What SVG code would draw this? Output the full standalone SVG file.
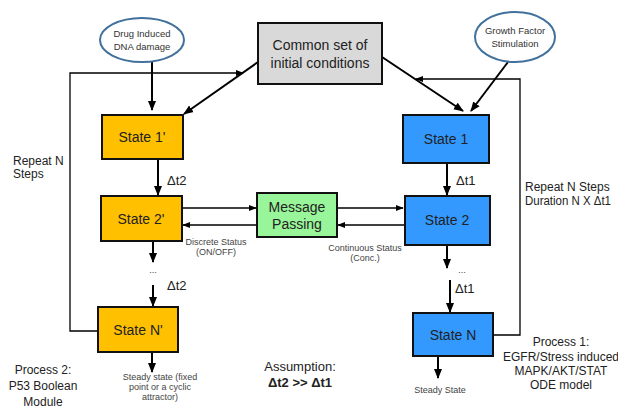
<svg xmlns="http://www.w3.org/2000/svg" width="618" height="410" viewBox="0 0 618 410">
<defs>
<marker id="ah" viewBox="0 0 10 10" refX="9" refY="5" markerWidth="5" markerHeight="5" orient="auto" markerUnits="strokeWidth"><path d="M0,1 L10,5 L0,9 z" fill="#000"/></marker>
<marker id="ahs" viewBox="0 0 10 10" refX="9" refY="5" markerWidth="6" markerHeight="6" orient="auto" markerUnits="strokeWidth"><path d="M0,1 L10,5 L0,9 z" fill="#000"/></marker>
</defs>
<style>
text{font-family:"Liberation Sans",Arial,sans-serif;fill:#222}
.box{stroke:#111;stroke-width:2}
.y{fill:#FFC000}
.b{fill:#3399FF}
.g{fill:#99F599}
.gr{fill:#D9D9D9}
.el{fill:#fff;stroke:#41719C;stroke-width:2}
.c{stroke:#000;stroke-width:2;fill:none;marker-end:url(#ah)}
.l{stroke:#000;stroke-width:1.3;fill:none}
.ls{stroke:#000;stroke-width:1.3;fill:none;marker-end:url(#ahs)}
.t14{font-size:14px;text-anchor:middle}
.t13{font-size:13px}
.t12{font-size:12px;text-anchor:middle}
.t12s{font-size:12px}
.t9{font-size:9px;text-anchor:middle;fill:#444}
.t10{font-size:9.5px;text-anchor:middle;fill:#333}
</style>
<g id="connectors">
<line class="c" x1="152" y1="62" x2="152" y2="110"/>
<line class="c" x1="258" y1="62" x2="184" y2="114"/>
<line class="c" x1="382" y1="57" x2="463" y2="111"/>
<line class="c" x1="508" y1="62" x2="471" y2="111"/>
<line class="c" x1="158" y1="159" x2="158" y2="195"/>
<line class="c" x1="153" y1="241" x2="153" y2="262"/>
<line class="c" x1="153" y1="285" x2="153" y2="306"/>
<line class="c" x1="152" y1="352" x2="152" y2="372"/>
<line class="c" x1="447" y1="163" x2="447" y2="195"/>
<line class="c" x1="447" y1="245" x2="447" y2="268"/>
<line class="c" x1="450" y1="280" x2="450" y2="312"/>
<line class="c" x1="438" y1="356" x2="438" y2="378"/>
<line class="ls" x1="182" y1="208" x2="256" y2="208"/>
<line class="ls" x1="257" y1="225" x2="183" y2="225"/>
<line class="ls" x1="337" y1="208" x2="403" y2="208"/>
<line class="ls" x1="404" y1="225" x2="338" y2="225"/>
<polyline class="ls" points="98,331 70,331 70,73 243,73"/>
<polyline class="ls" points="493,335 520,335 520,79 416,79"/>
</g>
<g id="drug"><ellipse class="el" cx="142" cy="40" rx="42" ry="22"/><text class="t10" x="142" y="37">Drug Induced</text><text class="t10" x="142" y="50">DNA damage</text></g>
<g id="growth"><ellipse class="el" cx="515" cy="37" rx="40" ry="25"/><text class="t10" x="515" y="34">Growth  Factor</text><text class="t10" x="515" y="47">Stimulation</text></g>
<g id="common"><rect class="box gr" x="258" y="23" width="124" height="61"/><text class="t14" x="320" y="50">Common set of</text><text class="t14" x="320" y="68">initial conditions</text></g>
<g id="state1p"><rect class="box y" x="102" y="115" width="81" height="44"/><text class="t14" x="142" y="142">State 1'</text></g>
<g id="state2p"><rect class="box y" x="101" y="196" width="81" height="45"/><text class="t14" x="141" y="224">State 2'</text></g>
<g id="stateNp"><rect class="box y" x="98" y="307" width="80" height="45"/><text class="t14" x="138" y="335">State N'</text></g>
<g id="msg"><rect class="box g" x="257" y="193" width="80" height="44"/><text class="t14" x="297" y="212">Message</text><text class="t14" x="297" y="229">Passing</text></g>
<g id="state1"><rect class="box b" x="403" y="115" width="86" height="48"/><text class="t14" x="446" y="144">State 1</text></g>
<g id="state2"><rect class="box b" x="405" y="196" width="85" height="49"/><text class="t14" x="447" y="225">State 2</text></g>
<g id="stateN"><rect class="box b" x="413" y="313" width="80" height="43"/><text class="t14" x="453" y="340">State N</text></g>
<g id="labels">
<text class="t13" x="167" y="185">Δt2</text>
<text class="t13" x="167" y="290">Δt2</text>
<text class="t13" x="456" y="185">Δt1</text>
<text class="t13" x="455" y="293">Δt1</text>
<text class="t9" x="153" y="273" fill="#999">...</text>
<text class="t9" x="462" y="273" fill="#999">...</text>
<text class="t9" x="216" y="245">Discrete Status</text>
<text class="t9" x="216" y="255">(ON/OFF)</text>
<text class="t9" x="365" y="251">Continuous  Status</text>
<text class="t9" x="365" y="261">(Conc.)</text>
<text class="t9" x="160" y="380">Steady state (fixed</text>
<text class="t9" x="160" y="390">point or a cyclic</text>
<text class="t9" x="160" y="400">attractor)</text>
<text class="t9" x="440" y="393">Steady State</text>
<text class="t12s" x="13" y="165">Repeat N</text>
<text class="t12s" x="13" y="178">Steps</text>
<text class="t12s" x="525" y="191">Repeat N Steps</text>
<text class="t12s" x="525" y="205" textLength="86" lengthAdjust="spacingAndGlyphs">Duration N X Δt1</text>
<text class="t12" x="43" y="374">Process 2:</text>
<text class="t12" x="43" y="390">P53 Boolean</text>
<text class="t12" x="43" y="406">Module</text>
<text class="t12" x="561" y="346">Process 1:</text>
<text class="t12" x="561" y="361">EGFR/Stress induced</text>
<text class="t12" x="561" y="375">MAPK/AKT/STAT</text>
<text class="t12" x="561" y="389">ODE model</text>
<text class="t13" x="300" y="371" text-anchor="middle">Assumption:</text>
<text class="t13" x="300" y="387" text-anchor="middle" font-weight="bold">Δt2 &gt;&gt; Δt1</text>
</g>
</svg>
